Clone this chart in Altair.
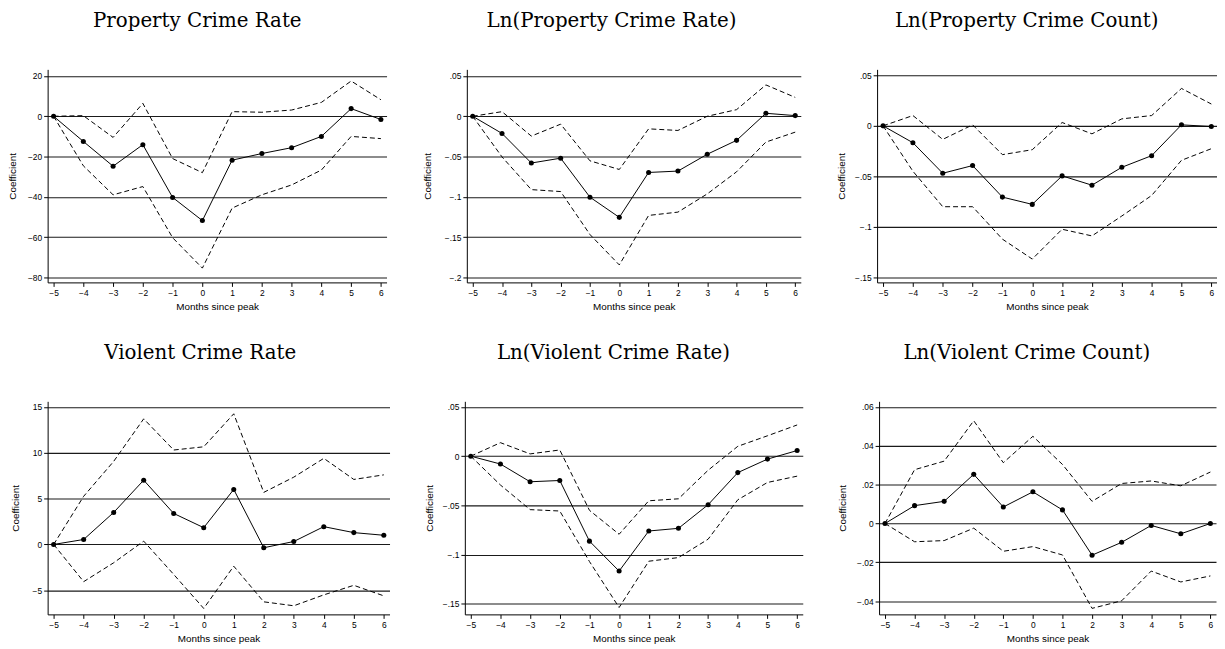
import altair as alt
import pandas as pd

MONTHS = [-5, -4, -3, -2, -1, 0, 1, 2, 3, 4, 5, 6]

# Property Crime Rate
pcr_coef = [0, -12.5, -24.8, -14.1, -40.3, -51.8, -21.8, -18.5, -15.6, -10.0, 3.8, -1.6]
pcr_up = [0, 0.3, -10.5, 6.4, -21.0, -28.0, 2.3, 2.0, 3.1, 6.9, 17.5, 8.2]
pcr_lo = [0, -24.6, -39.0, -34.9, -60.3, -75.4, -45.6, -39.0, -34.1, -26.7, -10.0, -11.1]

# Ln(Property Crime Rate)
lpr_coef = [0, -0.0213, -0.058, -0.052, -0.1004, -0.1254, -0.0697, -0.068, -0.0471, -0.0299, 0.0037, 0.0008]
lpr_up = [0, 0.0057, -0.0246, -0.0098, -0.0553, -0.066, -0.0156, -0.0176, 0.0, 0.0082, 0.0389, 0.0234]
lpr_lo = [0, -0.0504, -0.091, -0.0934, -0.1467, -0.1844, -0.123, -0.1189, -0.0963, -0.0689, -0.032, -0.0197]

# Ln(Property Crime Count)
lpc_coef = [0, -0.0167, -0.0469, -0.0393, -0.0705, -0.0777, -0.0495, -0.0587, -0.041, -0.0295, 0.001, -0.0007]
lpc_up = [0, 0.0102, -0.0134, 0.001, -0.0285, -0.0236, 0.0033, -0.0079, 0.0069, 0.0102, 0.037, 0.0216]
lpc_lo = [0, -0.0449, -0.08, -0.08, -0.1121, -0.1318, -0.1023, -0.1089, -0.0892, -0.0689, -0.0341, -0.0226]

# Violent Crime Rate
vcr_coef = [0, 0.54, 3.49, 7.01, 3.38, 1.83, 6.0, -0.36, 0.32, 1.94, 1.29, 1.0]
vcr_up = [0, 5.25, 9.06, 13.7, 10.3, 10.65, 14.25, 5.68, 7.34, 9.39, 7.09, 7.59]
vcr_lo = [0, -4.06, -2.0, 0.36, -3.27, -6.98, -2.37, -6.26, -6.69, -5.5, -4.46, -5.61]

# Ln(Violent Crime Rate)
lvr_coef = [0, -0.008, -0.026, -0.0247, -0.0863, -0.1167, -0.076, -0.0733, -0.0493, -0.0167, -0.003, 0.0057]
lvr_up = [0, 0.0137, 0.0023, 0.0063, -0.055, -0.0793, -0.0453, -0.0433, -0.0143, 0.01, 0.0207, 0.0317]
lvr_lo = [0, -0.0293, -0.0543, -0.0557, -0.107, -0.1537, -0.1067, -0.103, -0.0843, -0.0443, -0.0267, -0.0203]

# Ln(Violent Crime Count)
lvc_coef = [0, 0.0092, 0.0114, 0.0253, 0.0085, 0.0163, 0.007, -0.0163, -0.0097, -0.001, -0.0053, 0.0]
lvc_up = [0, 0.0277, 0.0321, 0.0529, 0.0313, 0.0449, 0.0304, 0.0114, 0.0206, 0.0219, 0.0194, 0.0265]
lvc_lo = [0, -0.0094, -0.0088, -0.0024, -0.0143, -0.0119, -0.0162, -0.0437, -0.0398, -0.0245, -0.0301, -0.027]

TITLES = ["Property Crime Rate", "Ln(Property Crime Rate)", "Ln(Property Crime Count)",
          "Violent Crime Rate", "Ln(Violent Crime Rate)", "Ln(Violent Crime Count)"]

TICKS = [
    [20, 0, -20, -40, -60, -80],
    [0.05, 0, -0.05, -0.1, -0.15, -0.2],
    [0.05, 0, -0.05, -0.1, -0.15],
    [15, 10, 5, 0, -5],
    [0.05, 0, -0.05, -0.1, -0.15],
    [0.06, 0.04, 0.02, 0, -0.02, -0.04],
]

YDOMS = [
    [-82.5, 23.3],
    [-0.2061, 0.0582],
    [-0.1549, 0.0559],
    [-7.63, 15.61],
    [-0.1607, 0.0557],
    [-0.0468, 0.0629],
]

LABEL_EXPR = "replace(format(datum.value, '~g'), '0.', '.')"


def panel(title, coef, up, lo, ticks, ydom, width, extent):
    df = pd.DataFrame({"month": MONTHS, "coef": coef, "upper": up, "lower": lo})
    xaxis = alt.Axis(
        title="Months since peak", values=MONTHS, format="d", grid=False,
        tickSize=4, labelPadding=2, labelFontSize=8.5, titleFontSize=10,
        titlePadding=4.8, minExtent=14.5, maxExtent=14.5,
    )
    x = alt.X("month:Q", scale=alt.Scale(domain=[-5.2, 6.19], nice=False, zero=False), axis=xaxis)
    yaxis = alt.Axis(
        title="Coefficient", values=ticks, labelExpr=LABEL_EXPR, grid=True,
        gridColor="#1a1a1a", gridWidth=1.1, tickSize=4, labelPadding=2,
        labelFontSize=8.5, titleFontSize=10, titlePadding=5,
        minExtent=extent, maxExtent=extent,
    )

    def ych(field):
        return alt.Y(f"{field}:Q", scale=alt.Scale(domain=ydom, nice=False, zero=False), axis=yaxis)

    base = alt.Chart(df)
    upper = base.mark_line(color="black", strokeWidth=1, strokeDash=[5, 3]).encode(x=x, y=ych("upper"))
    lower = base.mark_line(color="black", strokeWidth=1, strokeDash=[5, 3]).encode(x=x, y=ych("lower"))
    line = base.mark_line(color="black", strokeWidth=1).encode(x=x, y=ych("coef"))
    pts = base.mark_point(filled=True, color="black", size=26, opacity=1).encode(x=x, y=ych("coef"))
    return alt.layer(upper, lower, line, pts).properties(
        width=width, height=215,
        title=alt.TitleParams(
            title, font="DejaVu Serif", fontSize=20, fontWeight="normal",
            anchor="middle", frame="bounds", offset=19, baseline="bottom", color="black",
        ),
    )


data = [
    (pcr_coef, pcr_up, pcr_lo), (lpr_coef, lpr_up, lpr_lo), (lpc_coef, lpc_up, lpc_lo),
    (vcr_coef, vcr_up, vcr_lo), (lvr_coef, lvr_up, lvr_lo), (lvc_coef, lvc_up, lvc_lo),
]
widths = [342, 337, 343, 345, 341, 340]
extents = [25, 30, 26, 22, 26, 26.7]

panels = [
    panel(TITLES[i], *data[i], TICKS[i], YDOMS[i], widths[i], extents[i])
    for i in range(6)
]

row1 = alt.hconcat(*panels[:3], spacing=36)
row2 = alt.hconcat(*panels[3:], spacing=35)

chart = alt.vconcat(row1, row2, spacing=31).properties(
    padding=0, background="white"
).configure_view(stroke=None).configure_axis(
    domainColor="black", tickColor="black", labelColor="black", titleColor="black",
    labelFont="Liberation Sans", titleFont="Liberation Sans", titleFontWeight="normal",
    domainWidth=1, tickWidth=1,
)

chart.save("out.html", embed_options={"renderer": "svg", "actions": False})
